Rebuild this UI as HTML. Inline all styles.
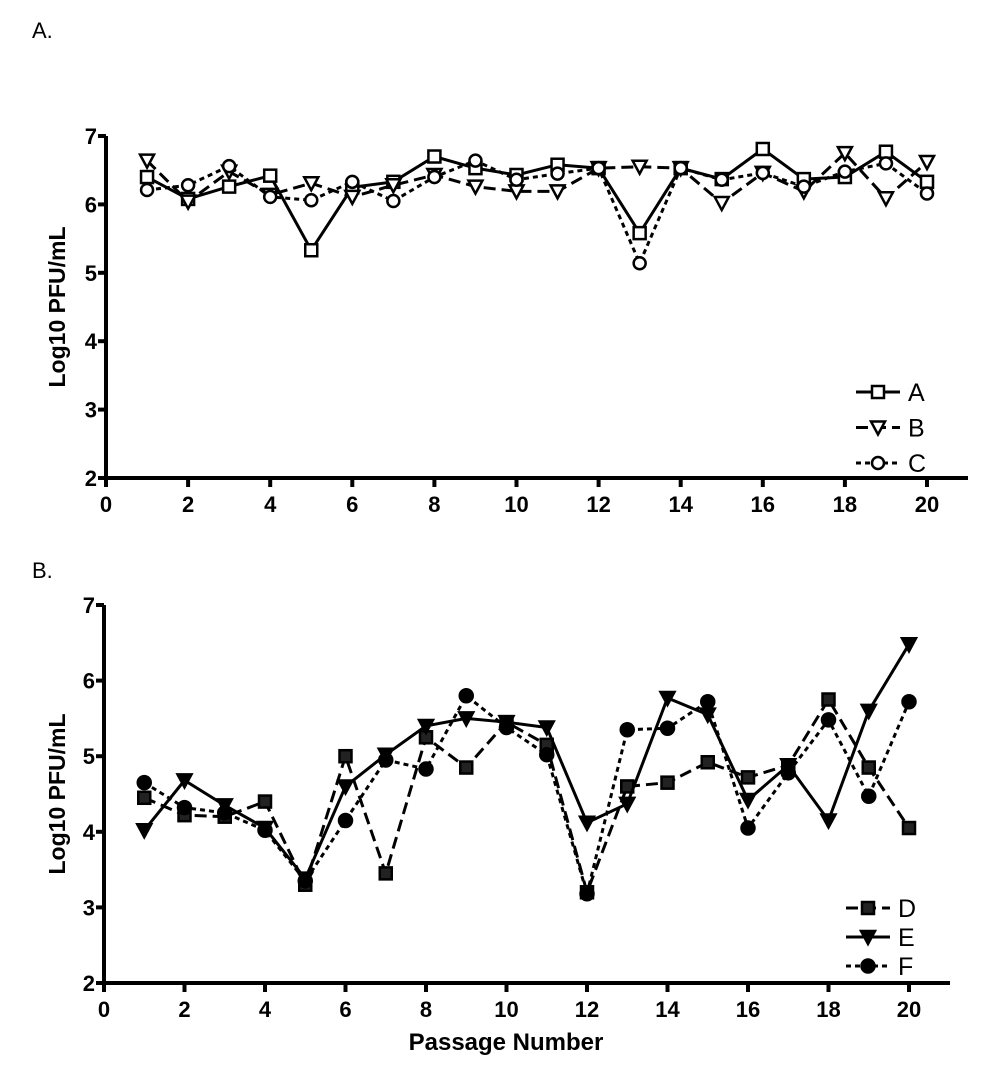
<!DOCTYPE html>
<html><head><meta charset="utf-8"><style>
html,body{margin:0;padding:0;background:#fff;}
svg{display:block;font-family:"Liberation Sans",Arial,sans-serif;}
</style></head><body>
<svg id="chart" width="993" height="1074" viewBox="0 0 993 1074"></svg>
<script>
const passages=[1,2,3,4,5,6,7,8,9,10,11,12,13,14,15,16,17,18,19,20];
const xTicks=[0,2,4,6,8,10,12,14,16,18,20];
const yTicks=[2,3,4,5,6,7];
const seriesA=[6.40,6.08,6.26,6.42,5.33,6.25,6.33,6.70,6.53,6.43,6.58,6.53,5.58,6.53,6.37,6.81,6.37,6.40,6.77,6.33];
const seriesB=[6.64,6.04,6.48,6.14,6.31,6.11,6.28,6.43,6.26,6.19,6.19,6.53,6.55,6.53,6.02,6.46,6.19,6.75,6.09,6.62];
const seriesC=[6.21,6.28,6.56,6.11,6.06,6.33,6.05,6.40,6.64,6.36,6.45,6.53,5.14,6.53,6.36,6.46,6.26,6.48,6.60,6.16];
const seriesD=[4.45,4.22,4.20,4.40,3.30,5.00,3.45,5.25,4.85,5.45,5.15,3.20,4.60,4.65,4.92,4.72,4.88,5.75,4.85,4.05];
const seriesE=[4.02,4.68,4.35,4.05,3.38,4.60,5.02,5.40,5.50,5.45,5.38,4.12,4.37,5.77,5.55,4.42,4.88,4.15,5.60,6.48];
const seriesF=[4.65,4.32,4.25,4.02,3.35,4.15,4.95,4.83,5.80,5.38,5.02,3.18,5.35,5.37,5.72,4.05,4.78,5.48,4.47,5.72];

const NS="http://www.w3.org/2000/svg";
const svg=document.getElementById('chart');
function mk(tag,attrs,parent){const e=document.createElementNS(NS,tag);for(const k in attrs)e.setAttribute(k,attrs[k]);(parent||svg).appendChild(e);return e;}

function panel(cfg){
  const g=mk('g',{});
  
  
  const xs=v=>cfg.x0+(cfg.x20-cfg.x0)*v/20;
  const ys=v=>cfg.y2+(cfg.y7-cfg.y2)*(v-2)/5;
  const ax=mk('path',{d:`M${cfg.x0},${cfg.y7} V${cfg.y2} H${cfg.xEnd}`,fill:'none',stroke:'#000','stroke-width':4},g);
  
  
  yTicks.forEach(t=>{
    mk('line',{x1:cfg.x0-8,x2:cfg.x0,y1:ys(t),y2:ys(t),stroke:'#000','stroke-width':4},g);
    const tx=mk('text',{x:cfg.x0-9,y:ys(t)+8,'text-anchor':'end','font-size':22,'font-weight':'bold'},g);
    tx.textContent=t;
    
    
  });
  xTicks.forEach(t=>{
    mk('line',{x1:xs(t),x2:xs(t),y1:cfg.y2,y2:cfg.y2+9,stroke:'#000','stroke-width':4},g);
    const tx=mk('text',{x:xs(t),y:cfg.y2+34,'text-anchor':'middle','font-size':22,'font-weight':'bold'},g);
    tx.textContent=t;
    
    
  });
  const yc=(cfg.y7+cfg.y2)/2;
  const yt=mk('text',{x:0,y:0,transform:`translate(65,${yc}) rotate(-90)`,'text-anchor':'middle','font-size':23,'font-weight':'bold'},g);
  yt.textContent='Log10 PFU/mL';
  
  
  const pl=mk('text',{x:32,y:cfg.labelY,'font-size':22},g);
  pl.textContent=cfg.label;
  
  

  cfg.series.forEach((s,si)=>{
    const sg=mk('g',{},g);
    
    
    const pts=s.data.map((v,i)=>xs(passages[i])+','+ys(v)).join(' ');
    const line=mk('polyline',{points:pts,fill:'none',stroke:'#000','stroke-width':3,'stroke-dasharray':s.dash},sg);
    
    
    s.data.forEach((v,i)=>{
      const m=marker(sg,s.marker,xs(passages[i]),ys(v),s.filled);
      
      
    });
    const ly=cfg.legY+si*cfg.legStep;
    const lg=mk('g',{},g);
    
    
    mk('line',{x1:cfg.legX,x2:cfg.legX+44,y1:ly,y2:ly,stroke:'#000','stroke-width':3,'stroke-dasharray':s.dash},lg);
    marker(lg,s.marker,cfg.legX+22,ly,s.filled);
    const lt=mk('text',{x:cfg.legX+52,y:ly+9,'font-size':25},lg);
    lt.textContent=s.name;
  });
}
function marker(p,type,x,y,filled){
  const fill=filled?'#000':'#fff';
  if(type==='sq') return mk('rect',{x:x-6,y:y-6,width:12,height:12,fill:filled?'#222':'#fff',stroke:'#000','stroke-width':2.5},p);
  if(type==='tri') return mk('polygon',{points:`${x-7},${y-6} ${x+7},${y-6} ${x},${y+7}`,fill:fill,stroke:'#000','stroke-width':2.5},p);
  return mk('circle',{cx:x,cy:y,r:filled?6.5:6,fill:fill,stroke:'#000','stroke-width':2.5},p);
}

panel({name:'panel-a',label:'A.',labelY:38,x0:106,x20:927,xEnd:968,y7:136,y2:478,legX:856,legY:392,legStep:35.5,
  series:[{name:'A',data:seriesA,marker:'sq',filled:false,dash:'none'},
          {name:'B',data:seriesB,marker:'tri',filled:false,dash:'12,6'},
          {name:'C',data:seriesC,marker:'circ',filled:false,dash:'5,4'}]});
panel({name:'panel-b',label:'B.',labelY:578,x0:104,x20:909,xEnd:950,y7:605,y2:983,legX:846,legY:908,legStep:29,
  series:[{name:'D',data:seriesD,marker:'sq',filled:true,dash:'12,6'},
          {name:'E',data:seriesE,marker:'tri',filled:true,dash:'none'},
          {name:'F',data:seriesF,marker:'circ',filled:true,dash:'5,4'}]});
const xt=mk('text',{x:506,y:1050,'text-anchor':'middle','font-size':24,'font-weight':'bold'});
xt.textContent='Passage Number';


</script>
</body></html>
